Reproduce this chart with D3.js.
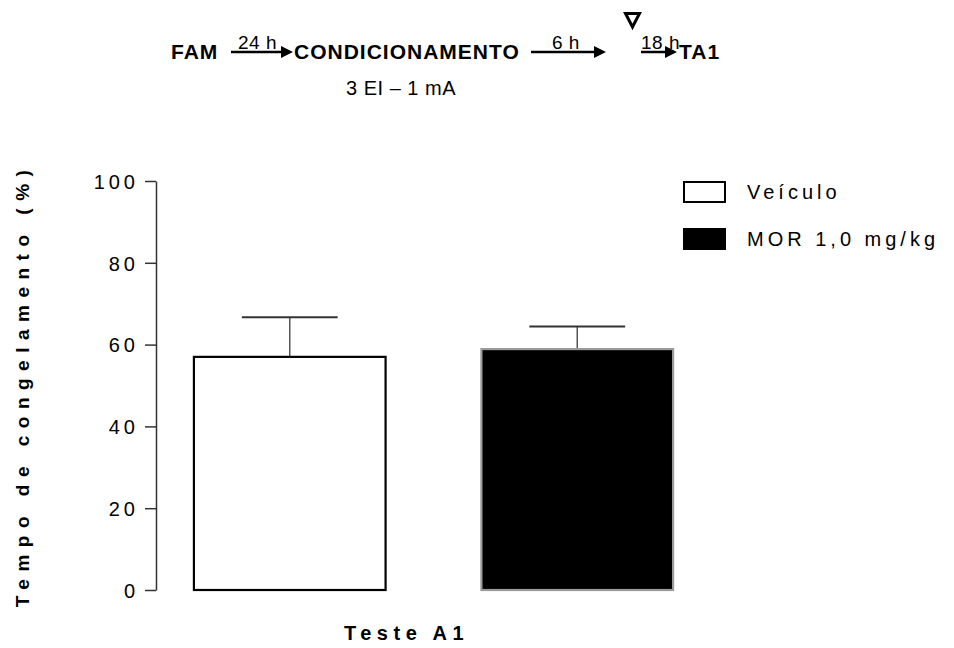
<!DOCTYPE html>
<html>
<head>
<meta charset="utf-8">
<script src="https://cdn.jsdelivr.net/npm/d3@7"></script>
<style>
  html, body { margin: 0; padding: 0; background: #fff; }
  svg { display: block; font-family: "Liberation Sans", Arial, sans-serif; }
</style>
</head>
<body>
<svg id="chart" width="954" height="648"></svg>
<script>
// Groups and their freezing-time results (mean % and SEM)
const groups = ["Veículo", "MOR 1,0 mg/kg"];
const means = [57.0, 58.9];
const sems = [9.7, 5.5];
const yTicks = [0, 20, 40, 60, 80, 100];
const barFills = ["#ffffff", "#000000"];
const barStrokes = ["#000000", "#9a9a9a"];

const svg = d3.select("#chart");

const y = d3.scaleLinear().domain([0, 100]).range([590, 181]);
const x = d3.scaleBand().domain(groups).range([146, 721])
  .paddingInner(1 / 3).paddingOuter(1 / 6);

// ---- protocol timeline at the top ----
const head = svg.append("g");
const boldHead = { "font-weight": "bold", "font-size": "21px", "letter-spacing": "1px" };
function addText(g, str, xp, yp, attrs) {
  const t = g.append("text").attr("x", xp).attr("y", yp).text(str);
  Object.entries(attrs).forEach(([k, v]) => t.style(k, v));
  return t;
}
function arrow(g, x1, x2, yp, label, lx) {
  g.append("line").attr("x1", x1).attr("x2", x2 - 9).attr("y1", yp).attr("y2", yp)
    .attr("stroke", "#000").attr("stroke-width", 2.5);
  g.append("path")
    .attr("d", `M${x2 - 12},${yp - 6}L${x2},${yp}L${x2 - 12},${yp + 6}Z`)
    .attr("fill", "#000");
  addText(g, label, lx, yp - 3, { "font-size": "19px", "letter-spacing": "0.5px" });
}
addText(head, "FAM", 171, 59, boldHead);
arrow(head, 231, 293, 52, "24 h", 238);
addText(head, "CONDICIONAMENTO", 294, 59, boldHead);
arrow(head, 531, 606, 52, "6 h", 552);
head.append("path")
  .attr("d", "M625.5,13.5L639.5,13.5L632.5,27Z")
  .attr("fill", "none").attr("stroke", "#000").attr("stroke-width", 3)
  .attr("stroke-linejoin", "miter");
arrow(head, 641, 677, 52, "18 h", 641);
addText(head, "TA1", 679, 59, boldHead);
addText(head, "3 EI – 1 mA", 346, 95, { "font-size": "20px", "letter-spacing": "0.5px" });

// ---- y axis ----
const yAxis = d3.axisLeft(y).tickValues(yTicks).tickSize(11).tickSizeOuter(0).tickPadding(10);
const ag = svg.append("g").attr("transform", "translate(156,0)").call(yAxis);
ag.select(".domain").attr("stroke", "#333").attr("stroke-width", 1.5);
ag.selectAll(".tick line").attr("stroke", "#333").attr("stroke-width", 1.5);
ag.selectAll(".tick text")
  .attr("fill", "#000")
  .style("font-size", "20px")
  .style("letter-spacing", "4px")
  .attr("dx", "4px")
  .attr("dy", "0.36em");

// y axis title
svg.append("text")
  .attr("transform", "translate(29,385) rotate(-90)")
  .attr("text-anchor", "middle")
  .style("font-weight", "bold")
  .style("font-size", "19px")
  .style("letter-spacing", "7.5px")
  .text("Tempo de congelamento (%)");

// x axis title
svg.append("text")
  .attr("x", 344).attr("y", 640)
  .style("font-weight", "bold")
  .style("font-size", "20px")
  .style("letter-spacing", "5.5px")
  .text("Teste A1");

// ---- error bars (drawn first so the bars sit on top) ----
const eb = svg.append("g");
groups.forEach((g, i) => {
  const cx = x(g) + x.bandwidth() / 2;
  const top = y(means[i] + sems[i]);
  eb.append("line").attr("x1", cx).attr("x2", cx)
    .attr("y1", y(means[i])).attr("y2", top)
    .attr("stroke", "#555").attr("stroke-width", 1.5);
  eb.append("line")
    .attr("x1", cx - x.bandwidth() / 4).attr("x2", cx + x.bandwidth() / 4)
    .attr("y1", top).attr("y2", top)
    .attr("stroke", "#333").attr("stroke-width", 2);
});

// ---- bars ----
svg.append("g").selectAll("rect").data(groups).join("rect")
  .attr("x", d => x(d))
  .attr("y", (d, i) => y(means[i]))
  .attr("width", x.bandwidth())
  .attr("height", (d, i) => y(0) - y(means[i]))
  .attr("fill", (d, i) => barFills[i])
  .attr("stroke", (d, i) => barStrokes[i])
  .attr("stroke-width", 2.2);

// ---- legend ----
const lg = svg.append("g");
groups.forEach((g, i) => {
  const ly = 182 + i * 47;
  lg.append("rect").attr("x", 684).attr("y", ly).attr("width", 41).attr("height", 20)
    .attr("fill", barFills[i]).attr("stroke", "#000").attr("stroke-width", 2);
  lg.append("text").attr("x", 747).attr("y", ly + 17)
    .style("font-size", "20px").style("letter-spacing", "4px")
    .text(g);
});
</script>
</body>
</html>
